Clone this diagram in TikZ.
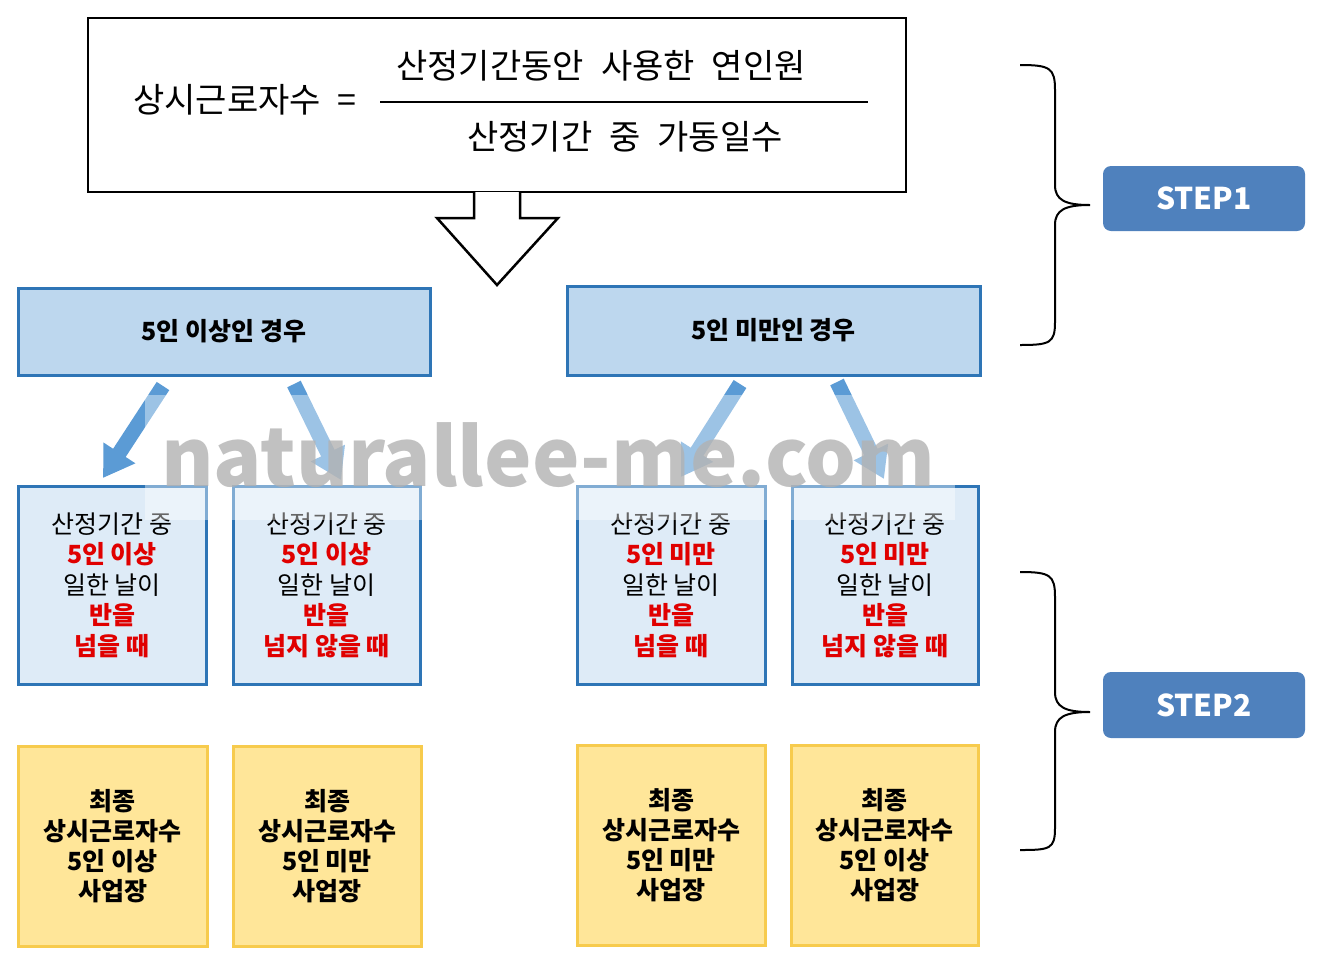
\documentclass[tikz,border=0pt]{standalone}
\usepackage{fontspec}
\setmainfont{Noto Sans CJK KR}
\usetikzlibrary{arrows.meta}
\definecolor{hb}{HTML}{BDD7EE}
\definecolor{lb}{HTML}{DEEBF7}
\definecolor{bd}{HTML}{2E75B6}
\definecolor{ab}{HTML}{5B9BD5}
\definecolor{yf}{HTML}{FFE699}
\definecolor{yb}{HTML}{F7CB4D}
\definecolor{sb}{HTML}{4F81BD}
\definecolor{rd}{HTML}{E00000}
\newcommand{\wsp}{\spaceskip=0.5em\relax}
\begin{document}
\begin{tikzpicture}[x=1pt,y=-1pt,
 hdr/.style={draw=bd,line width=3pt,fill=hb,font=\fontsize{25}{28}\selectfont\bfseries},
 mid/.style={draw=bd,line width=3pt,fill=lb,align=center,font=\fontsize{25}{30.5}\selectfont},
 yel/.style={draw=yb,line width=3pt,fill=yf,align=center,font=\fontsize{25}{30}\selectfont\bfseries},
 barr/.style={ab,line width=15pt,-{Triangle[width=36pt,length=30pt]}},
 stepbox/.style={rounded corners=8pt,fill=sb,text=white,font=\fontsize{30}{34}\selectfont\bfseries},
 ftxt/.style={font=\fontsize{34}{38}\selectfont},
 brc/.style={line width=2pt}]
\useasboundingbox (0,0) rectangle (1335,962);
% formula
\draw[line width=2.5pt] (88,18) rectangle (906,192);
\node[ftxt] (lhs) at (245,100) {\wsp 상시근로자수 =};
\draw[line width=2pt] (380,102) -- (868,102);
\node[ftxt] (num) at (601,66) {\wsp 산정기간동안 사용한 연인원};
\node[ftxt] (den) at (625,137) {\wsp 산정기간 중 가동일수};
\draw[line width=2.5pt,fill=white] (474,192) -- (474,218) -- (437,218) -- (497,285) -- (558,218) -- (520,218) -- (520,192);
% headers
\node[hdr,minimum width=412pt,minimum height=87pt] (h1) at (224,331.5) {5인 이상인 경우};
\node[hdr,minimum width=413pt,minimum height=89pt] (h2) at (773.5,330.5) {5인 미만인 경우};
% mid boxes
\newcommand{\rt}[1]{\textcolor{rd}{\bfseries #1}}
\node[mid,minimum width=188pt,minimum height=198pt] (m1) at (112,585) {산정기간 중\\\rt{5인 이상}\\일한 날이\\\rt{반을}\\\rt{넘을 때}};
\node[mid,minimum width=187pt,minimum height=198pt] (m2) at (326.5,585) {산정기간 중\\\rt{5인 이상}\\일한 날이\\\rt{반을}\\\rt{넘지 않을 때}};
\node[mid,minimum width=188pt,minimum height=198pt] (m3) at (671,585) {산정기간 중\\\rt{5인 미만}\\일한 날이\\\rt{반을}\\\rt{넘을 때}};
\node[mid,minimum width=186pt,minimum height=198pt] (m4) at (885,585) {산정기간 중\\\rt{5인 미만}\\일한 날이\\\rt{반을}\\\rt{넘지 않을 때}};
% yellow
\node[yel,minimum width=189pt,minimum height=200pt] (y1) at (112.5,846) {최종\\상시근로자수\\5인 이상\\사업장};
\node[yel,minimum width=188pt,minimum height=200pt] (y2) at (327,846) {최종\\상시근로자수\\5인 미만\\사업장};
\node[yel,minimum width=188pt,minimum height=200pt] (y3) at (671,845) {최종\\상시근로자수\\5인 미만\\사업장};
\node[yel,minimum width=187pt,minimum height=200pt] (y4) at (884.5,845) {최종\\상시근로자수\\5인 이상\\사업장};
% blue arrows
\coordinate (a1s) at (163,386); \coordinate (a1e) at (103,478);
\coordinate (a2s) at (294,384); \coordinate (a2e) at (341,480);
\coordinate (a3s) at (740,384); \coordinate (a3e) at (681,477);
\coordinate (a4s) at (837,382); \coordinate (a4e) at (884,479);
\draw[barr] (a1s) -- (a1e);
\draw[barr] (a2s) -- (a2e);
\draw[barr] (a3s) -- (a3e);
\draw[barr] (a4s) -- (a4e);
% watermark
\fill[white,opacity=0.4] (145,395) rectangle (955,520);
\node[text=black!30,opacity=0.8,font=\fontsize{80}{84}\selectfont\bfseries] (wm) at (548,455) {naturallee-me.com};
% braces
\draw[brc] (1020,65) .. controls (1050,65) and (1055,68) .. (1055,90) -- (1055,185) .. controls (1055,200) and (1065,205) .. (1090,205) .. controls (1065,205) and (1055,210) .. (1055,225) -- (1055,322) .. controls (1055,343) and (1050,345) .. (1020,345);
\draw[brc] (1020,572) .. controls (1050,572) and (1055,575) .. (1055,597) -- (1055,692) .. controls (1055,707) and (1065,712) .. (1090,712) .. controls (1065,712) and (1055,717) .. (1055,732) -- (1055,828) .. controls (1055,849) and (1050,850) .. (1020,850);
\node[stepbox,minimum width=202pt,minimum height=65pt] (s1) at (1204,198.5) {STEP1};
\node[stepbox,minimum width=202pt,minimum height=66pt] (s2) at (1204,705) {STEP2};
\end{tikzpicture}
\end{document}
